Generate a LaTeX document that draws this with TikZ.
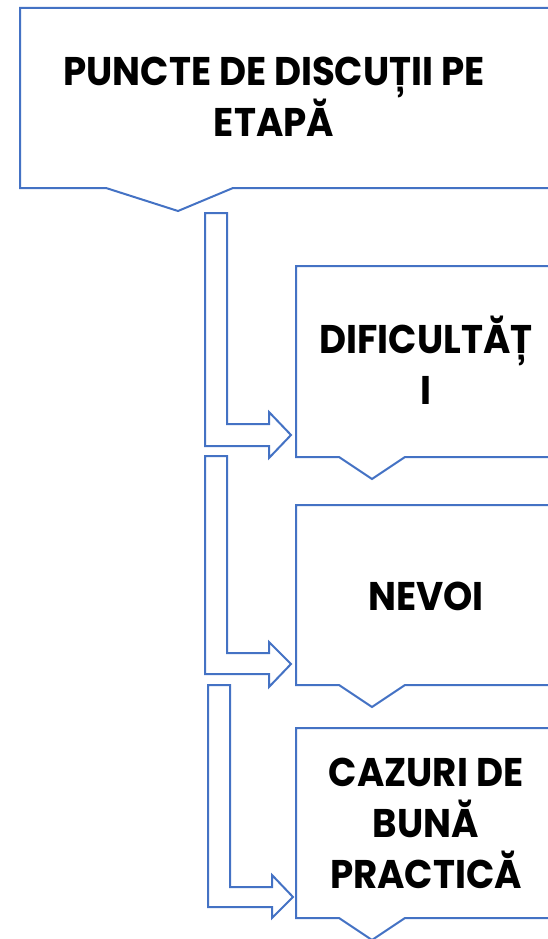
\documentclass[tikz,border=0pt]{standalone}
\usepackage{fontspec}
\setmainfont{Poppins}[BoldFont={* Bold}, BoldFeatures={FakeStretch=0.93}]
\definecolor{lineblue}{HTML}{4472C4}
\tikzset{
  outline/.style={draw=lineblue, line width=2pt, fill=white, line join=miter},
  label/.style={font=\bfseries\fontsize{40}{51}\selectfont, align=center, inner sep=0pt, text=black}
}
\begin{document}
\begin{tikzpicture}[x=1pt,y=-1pt]
\useasboundingbox (0,0) rectangle (548,939);
\clip (0,0) rectangle (548,939);
% top callout box
\draw[outline] (20,8) -- (570,8) -- (570,188) -- (233,188) -- (178,211) -- (106,188) -- (20,188) -- cycle;
\node[label] (title) at (274,97) {PUNCTE DE DISCUȚII PE\\ETAPĂ};
% bent arrows
\draw[outline] (205,213) -- (227,213) -- (227,424) -- (269,424) -- (269,412) -- (291,435) -- (269,458) -- (269,446) -- (205,446) -- cycle;
\draw[outline] (205,456) -- (227,456) -- (227,653) -- (269,653) -- (269,642) -- (291,664) -- (269,687) -- (269,674) -- (205,674) -- cycle;
\draw[outline] (208,685) -- (230,685) -- (230,887) -- (272,887) -- (272,875) -- (293,897) -- (272,918) -- (272,907) -- (208,907) -- cycle;
% box 2
\draw[outline] (296,266) -- (570,266) -- (570,457) -- (405,457) -- (372,479) -- (339,457) -- (296,457) -- cycle;
\node[label] (dif) at (426,360) {DIFICULTĂȚ\\I};
% box 3
\draw[outline] (296,505) -- (570,505) -- (570,685) -- (405,685) -- (372,707) -- (339,685) -- (296,685) -- cycle;
\node[label] (nev) at (426,596) {NEVOI};
% box 4
\draw[outline] (296,728) -- (570,728) -- (570,918) -- (405,918) -- (372,940) -- (339,918) -- (296,918) -- cycle;
\node[label] (caz) at (426,823) {CAZURI DE\\BUNĂ\\PRACTICĂ};
\end{tikzpicture}
\end{document}
